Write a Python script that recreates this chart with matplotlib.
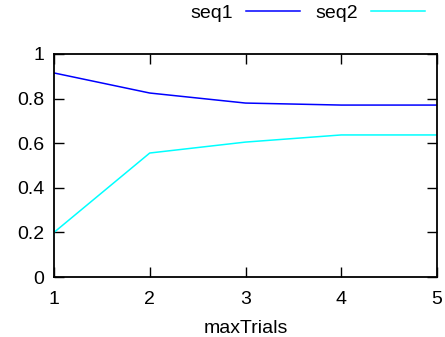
import numpy as np
import matplotlib
matplotlib.use("Agg")
import matplotlib.pyplot as plt

plt.rcParams['font.family'] = ['Liberation Sans', 'DejaVu Sans']

# données
max_trials = [1, 2, 3, 4, 5]
seq1 = [0.915, 0.825, 0.78, 0.771, 0.771]
seq2 = [0.2, 0.556, 0.605, 0.637, 0.637]

fig = plt.figure(figsize=(4.45, 3.37), dpi=100)
ax = fig.add_axes([54 / 445, 1 - 277 / 337, (437 - 54) / 445, (277 - 54) / 337])

ax.plot(max_trials, seq1, color='#0000ff', linewidth=1.1, label='seq1')
ax.plot(max_trials, seq2, color='#00ffff', linewidth=1.1, label='seq2')

ax.set_xlim(1, 5)
ax.set_ylim(0, 1)
ax.set_xticks(max_trials)
ax.set_yticks([0, 0.2, 0.4, 0.6, 0.8, 1])
ax.set_yticklabels(['0', '0.2', '0.4', '0.6', '0.8', '1'])
ax.tick_params(direction='in', length=7, width=1, top=True, right=True,
               labelsize=14, pad=7)
ax.tick_params(axis='x', pad=10)
for s in ax.spines.values():
    s.set_linewidth(1.3)
ax.set_xlabel('maxTrials', fontsize=14, labelpad=9)

ax.legend(loc='upper right', bbox_to_anchor=(0.969, 1.004), bbox_transform=fig.transFigure,
          ncol=2, markerfirst=False, frameon=False, fontsize=14,
          handlelength=2.8, columnspacing=0.8, handletextpad=0.65,
          borderaxespad=0.0, borderpad=0.3)

fig.savefig('out.png', dpi=100)
